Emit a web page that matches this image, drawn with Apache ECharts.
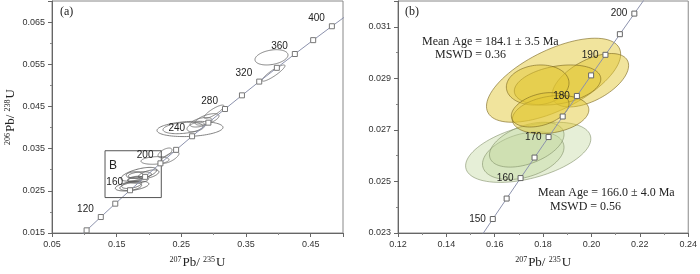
<!DOCTYPE html>
<html><head><meta charset="utf-8">
<script src="https://cdn.jsdelivr.net/npm/echarts/dist/echarts.min.js"></script>
<style>html,body{margin:0;padding:0;background:#fff}#c{width:700px;height:274px}</style>
</head><body><div id="c"></div>
<script>
// ---- Panel (a): concordia points (age Ma, 207Pb/235U, 206Pb/238U) ----
const concAges = [80,100,120,140,160,180,200,220,240,260,280,300,320,340,360,380,400,420];
const concAx = [0.08198,0.10350,0.12545,0.14784,0.17067,0.19396,0.21771,0.24193,0.26663,0.29183,0.31752,0.34373,0.37046,0.39772,0.42553,0.45389,0.48281,0.51231];
const concAy = [0.012487,0.015633,0.018789,0.021955,0.025131,0.028316,0.031511,0.034717,0.037932,0.041157,0.044392,0.047637,0.050893,0.054158,0.057434,0.060719,0.064016,0.067322];
const markerAgesA = [100,120,140,160,180,200,220,240,260,280,300,320,340,360,380,400];
const labelAgesA = [120,160,200,240,280,320,360,400];

// ---- Panel (b): concordia points ----
const concBAges = [145,150,155,160,165,170,175,180,185,190,195,200,205];
const concBx = [0.15350,0.15920,0.16492,0.17067,0.17645,0.18226,0.18809,0.19396,0.19985,0.20577,0.21173,0.21771,0.22372];
const concBy = [0.022748,0.023542,0.024336,0.025131,0.025926,0.026722,0.027519,0.028316,0.029114,0.029912,0.030712,0.031511,0.032311];
const markerAgesB = [150,155,160,165,170,175,180,185,190,195,200];
const labelAgesB = [150,160,170,180,190,200];

// ---- error ellipses: [centre 207/235, centre 206/238, half-width x, half-height y, rho] ----
const ellipsesOld = [
  [0.38942,0.056648,0.02551,0.001811,0.30],
  [0.39251,0.052913,0.01778,0.001924,0.90],
  [0.30050,0.043746,0.01546,0.001584,0.85],
  [0.26339,0.039672,0.05103,0.001811,0.20],
  [0.25256,0.039898,0.03093,0.001358,0.30],
  [0.28040,0.041256,0.01701,0.001132,0.50],
  [0.28968,0.041935,0.01856,0.001358,0.60],
  [0.27267,0.040125,0.01392,0.001132,0.40],
  [0.23247,0.032881,0.01392,0.001358,0.70],
  [0.20927,0.032202,0.02165,0.000905,0.20],
  [0.22473,0.034013,0.01082,0.001132,0.60]
];
const ellipsesYellow = [
  [0.18432,0.028926,0.02774,0.001630,0.62],
  [0.19953,0.028926,0.01582,0.001037,0.55],
  [0.18597,0.028741,0.01788,0.000778,0.30],
  [0.17775,0.028741,0.01295,0.000778,0.10],
  [0.18309,0.027593,0.01582,0.000741,0.25],
  [0.17878,0.027778,0.01192,0.000667,0.35]
];
const ellipsesGreen = [
  [0.17384,0.026130,0.02589,0.001167,0.45],
  [0.17179,0.026000,0.01685,0.000926,0.35],
  [0.17323,0.026426,0.01541,0.000870,0.45]
];
const boxB = [[0.132,0.0234],[0.219,0.0234],[0.219,0.0345],[0.132,0.0345],[0.132,0.0234]];

const zip = (xs, ys) => xs.map((x, i) => [x, ys[i]]);
function markerData(ages, xs, ys, markAges, labAges) {
  return markAges.map(a => {
    const i = ages.indexOf(a);
    return { value: [xs[i], ys[i]], name: String(a), label: { show: labAges.includes(a) } };
  });
}
function ellipseRender(fill, stroke) {
  return function (params, api) {
    const cx = api.value(0), cy = api.value(1), sx = api.value(2), sy = api.value(3), r = api.value(4);
    const k = Math.sqrt(1 - r * r), pts = [];
    for (let i = 0; i < 90; i++) {
      const t = i / 90 * 2 * Math.PI;
      pts.push(api.coord([cx + sx * Math.cos(t), cy + sy * (r * Math.cos(t) + k * Math.sin(t))]));
    }
    return { type: 'polygon', shape: { points: pts }, style: { fill: fill, stroke: stroke, lineWidth: 1 } };
  };
}
const SANS = 'Liberation Sans, Arial, sans-serif';
const SERIF = 'Liberation Serif, Times New Roman, serif';
const axisCommon = {
  type: 'value',
  axisLine: { show: true, lineStyle: { color: '#666' } },
  axisTick: { show: true, length: 4, lineStyle: { color: '#666' } },
  minorTick: { show: true, splitNumber: 2, length: 2, lineStyle: { color: '#888' } },
  splitLine: { show: false }
};
const rich = {
  s: { fontSize: 8, fontFamily: SERIF, color: '#222', verticalAlign: 'top', padding: [0, 1, 0, 0] },
  b: { fontSize: 13, fontFamily: SERIF, color: '#222' }
};
function lab(dec) {
  return { fontSize: 9, color: '#333', fontFamily: SANS, formatter: v => v.toFixed(dec), showMaxLabel: false, margin: 7 };
}
function lab2(dec) {
  return { fontSize: 9, color: '#333', fontFamily: SANS, formatter: v => v.toFixed(dec), margin: 7 };
}

const chart = echarts.init(document.getElementById('c'), null, { renderer: 'canvas' });
chart.setOption({
  animation: false,
  backgroundColor: '#fff',
  grid: [
    { left: 52, top: 1, width: 291, height: 243, show: true, borderColor: '#888', borderWidth: 1 },
    { left: 398, top: 1, width: 292, height: 243, show: true, borderColor: '#888', borderWidth: 1 }
  ],
  xAxis: [
    Object.assign({}, axisCommon, { gridIndex: 0, min: 0.05, max: 0.5, interval: 0.1, axisLabel: lab(2),
      name: '{s|207}{b|Pb/ }{s|235}{b|U}', nameLocation: 'middle', nameGap: 23, nameTextStyle: { rich: rich } }),
    Object.assign({}, axisCommon, { gridIndex: 1, min: 0.12, max: 0.24, interval: 0.02, axisLabel: lab2(2),
      name: '{s|207}{b|Pb/ }{s|235}{b|U}', nameLocation: 'middle', nameGap: 23, nameTextStyle: { rich: rich } })
  ],
  yAxis: [
    Object.assign({}, axisCommon, { gridIndex: 0, min: 0.015, max: 0.07, interval: 0.01, axisLabel: lab(3),
      name: '{s|206}{b|Pb/ }{s|238}{b|U}', nameLocation: 'middle', nameGap: 35, nameTextStyle: { rich: rich } }),
    Object.assign({}, axisCommon, { gridIndex: 1, min: 0.023, max: 0.032, interval: 0.002, axisLabel: lab(3) })
  ],
  series: [
    // panel a
    { type: 'custom', xAxisIndex: 0, yAxisIndex: 0, clip: true, z: 2, data: ellipsesOld,
      encode: { x: 0, y: 1 }, renderItem: ellipseRender('none', 'rgba(110,110,110,0.85)') },
    { type: 'custom', xAxisIndex: 0, yAxisIndex: 0, clip: true, z: 2, data: ellipsesGreen,
      encode: { x: 0, y: 1 }, renderItem: ellipseRender('none', 'rgba(90,90,90,0.85)') },
    { type: 'custom', xAxisIndex: 0, yAxisIndex: 0, clip: true, z: 2, data: ellipsesYellow,
      encode: { x: 0, y: 1 }, renderItem: ellipseRender('none', 'rgba(90,90,90,0.85)') },
    { type: 'line', xAxisIndex: 0, yAxisIndex: 0, data: zip(concAx, concAy), showSymbol: false, clip: true, z: 3,
      lineStyle: { color: '#8c92ad', width: 1 } },
    { type: 'line', xAxisIndex: 0, yAxisIndex: 0, data: boxB, showSymbol: false, z: 3,
      lineStyle: { color: '#555', width: 1 } },
    { type: 'scatter', xAxisIndex: 0, yAxisIndex: 0, z: 4, symbol: 'rect', symbolSize: 5,
      itemStyle: { color: '#fff', borderColor: '#777', borderWidth: 1, opacity: 1 },
      label: { position: 'left', distance: 4, offset: [0, -8], formatter: '{b}', fontSize: 10, color: '#222', fontFamily: SANS },
      data: markerData(concAges, concAx, concAy, markerAgesA, labelAgesA) },
    // panel b
    { type: 'custom', xAxisIndex: 1, yAxisIndex: 1, clip: true, z: 2, data: ellipsesGreen,
      encode: { x: 0, y: 1 }, renderItem: ellipseRender('rgba(195,218,160,0.42)', 'rgba(120,135,95,0.55)') },
    { type: 'custom', xAxisIndex: 1, yAxisIndex: 1, clip: true, z: 2, data: ellipsesYellow,
      encode: { x: 0, y: 1 }, renderItem: ellipseRender('rgba(226,198,50,0.48)', 'rgba(120,100,30,0.6)') },
    { type: 'line', xAxisIndex: 1, yAxisIndex: 1, data: zip(concBx, concBy), showSymbol: false, clip: true, z: 3,
      lineStyle: { color: '#8c92ad', width: 1 } },
    { type: 'scatter', xAxisIndex: 1, yAxisIndex: 1, z: 4, symbol: 'rect', symbolSize: 5,
      itemStyle: { color: '#fff', borderColor: '#666', borderWidth: 1, opacity: 1 },
      label: { position: 'left', distance: 4, formatter: '{b}', fontSize: 10, color: '#222', fontFamily: SANS },
      data: markerData(concBAges, concBx, concBy, markerAgesB, labelAgesB) }
  ],
  graphic: [
    { type: 'text', left: 60, top: 6, style: { text: '(a)', font: '12px ' + SERIF, fill: '#222' } },
    { type: 'text', left: 405, top: 6, style: { text: '(b)', font: '12px ' + SERIF, fill: '#222' } },
    { type: 'text', left: 109, top: 160, style: { text: 'B', font: '12px ' + SANS, fill: '#222' } },
    { type: 'text', left: 422, top: 36, style: { text: 'Mean Age = 184.1 ± 3.5 Ma', font: '12px ' + SERIF, fill: '#222' } },
    { type: 'text', left: 435, top: 49, style: { text: 'MSWD = 0.36', font: '12px ' + SERIF, fill: '#222' } },
    { type: 'text', left: 538, top: 187, style: { text: 'Mean Age = 166.0 ± 4.0 Ma', font: '12px ' + SERIF, fill: '#222' } },
    { type: 'text', left: 550, top: 201, style: { text: 'MSWD = 0.56', font: '12px ' + SERIF, fill: '#222' } }
  ]
});
</script>
</body></html>
